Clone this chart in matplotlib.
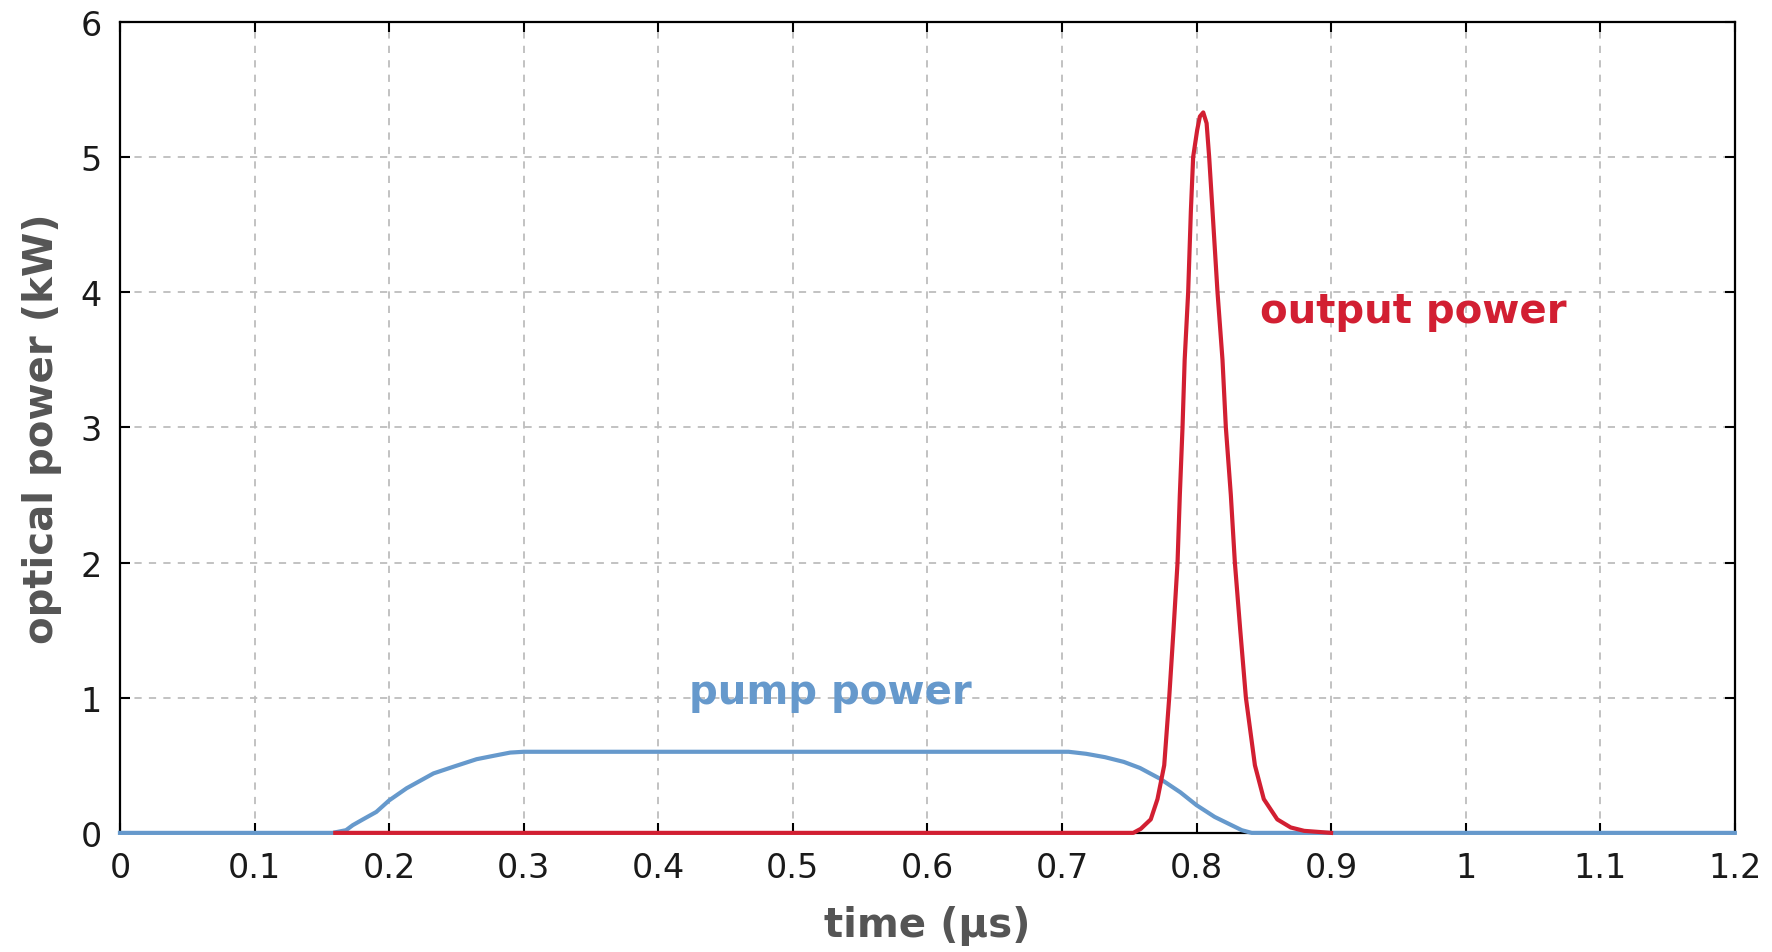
import matplotlib.pyplot as plt

# pump power (kW) vs time (us)
t_pump = [0.0, 0.158, 0.168, 0.173, 0.1806, 0.1905, 0.2, 0.213, 0.233, 0.248, 0.265,
          0.2776, 0.29, 0.30, 0.705, 0.718, 0.732, 0.746, 0.758, 0.773, 0.788, 0.80,
          0.8135, 0.826, 0.8336, 0.841, 1.2]
p_pump = [0.0, 0.0, 0.02, 0.057, 0.10, 0.155, 0.24, 0.33, 0.44, 0.49, 0.545,
          0.57, 0.594, 0.60, 0.60, 0.585, 0.56, 0.525, 0.48, 0.40, 0.30, 0.205,
          0.118, 0.057, 0.02, 0.0, 0.0]

# output power (kW) vs time (us)
t_out = [0.16, 0.753, 0.7586, 0.766, 0.771, 0.776, 0.7797, 0.7829, 0.7859, 0.7876,
         0.7896, 0.7912, 0.7938, 0.7958, 0.7975, 0.8005, 0.8025, 0.805, 0.8075, 0.8094,
         0.8119, 0.8156, 0.8193, 0.8218, 0.8255, 0.8285, 0.8325, 0.8367, 0.8434,
         0.850, 0.860, 0.870, 0.880, 0.90]
p_out = [0.0, 0.0, 0.03, 0.10, 0.25, 0.5, 1.0, 1.5, 2.0, 2.5,
         3.0, 3.5, 4.0, 4.6, 5.0, 5.2, 5.3, 5.33, 5.25, 5.0,
         4.6, 4.0, 3.5, 3.0, 2.5, 2.0, 1.5, 1.0, 0.5,
         0.25, 0.10, 0.04, 0.015, 0.0]

x_ticks = [0, 0.1, 0.2, 0.3, 0.4, 0.5, 0.6, 0.7, 0.8, 0.9, 1, 1.1, 1.2]
x_labels = ['0', '0.1', '0.2', '0.3', '0.4', '0.5', '0.6', '0.7', '0.8', '0.9', '1', '1.1', '1.2']
y_ticks = [0, 1, 2, 3, 4, 5, 6]

blue = '#6699cc'
red = '#d21f32'

fig = plt.figure(figsize=(17.72, 9.53), dpi=100)
ax = fig.add_axes([0.0677, 0.125, 0.9113, 0.851])

ax.plot(t_pump, p_pump, color=blue, lw=3, zorder=3, clip_on=False)
ax.plot(t_out, p_out, color=red, lw=3, zorder=4, clip_on=False)

ax.set_xlim(0, 1.2)
ax.set_ylim(0, 6)
ax.set_xticks(x_ticks)
ax.set_xticklabels(x_labels)
ax.set_yticks(y_ticks)

ax.grid(True, color='#bdbdbd', linestyle=(0, (4, 4)), linewidth=1.3)
ax.tick_params(direction='in', length=7, width=1.5, top=True, right=True,
               labelsize=24, labelcolor='#1a1a1a', pad=13)
for s in ax.spines.values():
    s.set_linewidth(1.6)

ax.set_xlabel('time (µs)', fontsize=29, fontweight='bold', color='#555555', labelpad=15)
ax.set_ylabel('optical power (kW)', fontsize=29, fontweight='bold', color='#555555', labelpad=13)

ax.text(0.847, 3.86, 'output power', color=red, fontsize=29, fontweight='bold',
        ha='left', va='center')
ax.text(0.528, 1.04, 'pump power', color=blue, fontsize=29, fontweight='bold',
        ha='center', va='center')

fig.savefig('out.png', dpi=100)
